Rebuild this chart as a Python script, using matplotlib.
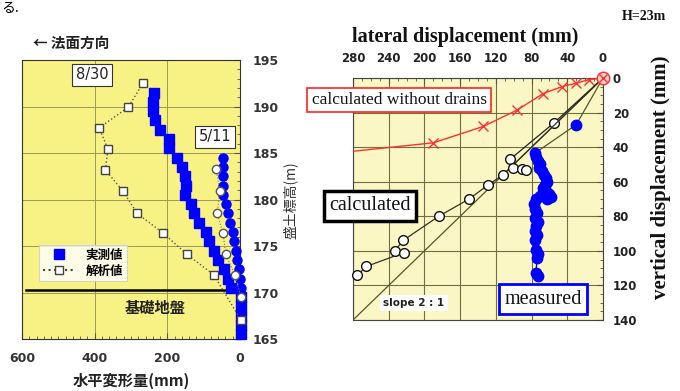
import matplotlib
matplotlib.use('Agg')
import matplotlib.pyplot as plt
from matplotlib.lines import Line2D
from matplotlib.ticker import MultipleLocator

JP = ['Noto Sans CJK JP', 'DejaVu Sans']
SERIF = 'Liberation Serif'

# ---- left: horizontal deformation vs. embankment elevation ----
elev_830 = [191.5, 190.5, 189.5, 188.5, 187.5, 186.5, 185.5, 184.5, 183.5, 182.5, 181.5,
            180.5, 179.5, 178.5, 177.5, 176.5, 175.5, 174.5, 173.5, 172.5, 171.5, 170.5,
            169.5, 168.5, 167.5, 166.5, 165.5]
meas_830 = [237, 239, 239, 234, 220, 195, 195, 173, 160, 151, 149,
            151, 135, 127, 113, 94, 85, 72, 61, 44, 33, 25,
            -3, -3, -4, -4, -4]
elev_511 = [184.5, 183.5, 182.5, 181.5, 180.5, 179.5, 178.5, 177.5, 176.5, 175.5,
            174.5, 173.5, 172.5, 171.5, 170.5]
meas_511 = [46, 46, 46, 46, 46, 39, 32, 28, 18, 16, 11, 7, 2, 0, -3]
calc_830_elev = [192.5, 189.9, 187.7, 185.4, 183.2, 180.9, 178.5, 176.4, 174.1, 171.9, 167.0]
calc_830 = [267, 308, 388, 363, 371, 322, 283, 212, 146, 72, -3]
calc_511_elev = [183.3, 180.9, 178.5, 176.4, 174.1, 171.9, 169.5]
calc_511 = [66, 55, 63, 47, 39, 14, -3]
foundation_elev = 170.3

# ---- right: lateral vs. vertical displacement ----
nodrain_lat = [0, 16, 30, 46, 67, 96, 134, 190, 282]
nodrain_vert = [0, 1, 3, 5, 9, 18.5, 28, 37.5, 42.5]
slope_lat = [0, 280]
slope_vert = [0, 140]
calc_a_lat = [0, 55, 104]
calc_a_vert = [0, 26, 47]
calc_b_lat = [0, 112, 129, 150, 184, 224, 233, 223, 265, 275]
calc_b_vert = [0, 56, 62, 70, 80, 94, 100, 101, 109, 114]
calc_c_lat = [101, 91, 86]
calc_c_vert = [52, 52.6, 53]
meas_lat = [0, 30, 76, 75, 73, 70.5, 71.7, 68.3, 66.1, 63.8, 62.7, 64.9, 67.2, 63.8, 60.5,
            58.2, 62.7, 70.5, 75, 77.3, 76.1, 73.9, 76.1, 72.8, 75, 76.1, 73.9, 76.1,
            75, 72.8, 73.9, 75, 72.8]
meas_vert = [0, 27, 43.4, 45.7, 48, 49.7, 52.1, 53.8, 56.1, 57.8, 60.1, 61.9, 63.6, 65.3,
             67.1, 68.8, 70, 68.2, 70, 72.9, 75.8, 78.1, 81, 83.3, 85.6, 88.5, 90.8, 93.7,
             99.5, 101.8, 104.1, 112.8, 114.5]

fig = plt.figure(figsize=(6.8, 3.91), dpi=100)


def fx(x):
    return x / 680


def fy(y):
    return 1 - y / 391


fig.text(fx(1), fy(1), 'る.', fontsize=10, family=JP, va='top', ha='left')

ax1 = fig.add_axes([fx(22), fy(339), 218 / 680, 279 / 391])
ax1.set_facecolor('#f8f284')
ax1.set_xlim(600, 0)
ax1.set_ylim(165, 195)
ax1.set_xticks([600, 400, 200, 0])
ax1.set_yticks([165, 170, 175, 180, 185, 190, 195])
ax1.xaxis.set_minor_locator(MultipleLocator(20))
ax1.yaxis.set_minor_locator(MultipleLocator(1))
ax1.yaxis.tick_right()
ax1.tick_params(which='both', direction='in', color='#555555', labelcolor='#333333')
ax1.tick_params(which='major', length=4)
ax1.tick_params(which='minor', length=2.5)
ax1.tick_params(axis='x', pad=9)
ax1.tick_params(axis='y', pad=9)
for lbl in ax1.get_xticklabels() + ax1.get_yticklabels():
    lbl.set_fontweight('bold')
    lbl.set_fontsize(9)
    lbl.set_family('DejaVu Sans')
ax1.grid(True, color='#9a9a58', lw=0.7)
for s in ax1.spines.values():
    s.set_color('#333333')
    s.set_linewidth(0.8)

ax1.axhline(foundation_elev, xmin=0.02, xmax=0.95, color='black', lw=1.8, zorder=3)
ax1.plot(meas_830, elev_830, ls='none', marker='s', color='#0000ff', ms=6.5, clip_on=False, zorder=4)
ax1.plot(meas_511, elev_511, ls='none', marker='o', color='#0000ff', ms=6.5, clip_on=False, zorder=4)
ax1.plot(calc_830, calc_830_elev, ls=':', color='#555555', lw=1, marker='s', mfc='white',
         mec='#444444', ms=6, clip_on=False, zorder=5)
ax1.plot(calc_511, calc_511_elev, ls=':', color='#777777', lw=0.8, marker='o', mfc='white',
         mec='#555555', ms=6, clip_on=False, zorder=5)

handles = [Line2D([], [], ls='none', marker='s', color='#0000ff', ms=6.5),
           Line2D([], [], ls=':', color='#444444', marker='s', mfc='white', mec='#444444', ms=6)]
leg = ax1.legend(handles, ['実測値', '解析値'], loc='upper left', bbox_to_anchor=(0.05, 0.36),
                 prop={'family': JP, 'weight': 'bold', 'size': 9}, frameon=True, fancybox=False,
                 edgecolor='#cccccc', handlelength=2.6, borderpad=0.3, labelspacing=0.25,
                 handletextpad=0.8)
leg.get_frame().set_linewidth(0.8)
leg.set_zorder(6)

ax1.text(234, 168.4, '基礎地盤', family=JP, fontsize=11, fontweight='bold', color='#222222',
         ha='center', va='center')
fig.text(fx(92), fy(75), '8/30', fontsize=10.5, family='DejaVu Sans', ha='center', va='center',
         color='#222222', bbox=dict(boxstyle='square,pad=0.25', fc='white', ec='#333333', lw=0.8))
fig.text(fx(215), fy(137), '5/11', fontsize=10.5, family='DejaVu Sans', ha='center', va='center',
         color='#222222', bbox=dict(boxstyle='square,pad=0.25', fc='white', ec='#333333', lw=0.8))
fig.text(fx(33), fy(43), '← 法面方向', family=JP, fontsize=10.5, fontweight='bold',
         color='#222222', ha='left', va='center')
fig.text(fx(290), fy(200), '盛土標高(m)', family=JP, fontsize=10, color='#333333',
         rotation=90, ha='center', va='center')
fig.text(fx(131), fy(381), '水平変形量(mm)', family=JP, fontsize=11, fontweight='bold',
         color='#222222', ha='center', va='center')

# right panel
ax2 = fig.add_axes([fx(353), fy(320), 250 / 680, 242 / 391])
ax2.set_facecolor('#fbf7c4')
ax2.set_xlim(280, 0)
ax2.set_ylim(140, 0)
ax2.set_xticks(range(0, 281, 40))
ax2.set_yticks(range(0, 141, 20))
ax2.xaxis.set_minor_locator(MultipleLocator(10))
ax2.yaxis.set_minor_locator(MultipleLocator(5))
ax2.xaxis.tick_top()
ax2.yaxis.tick_right()
ax2.tick_params(which='both', direction='in', color='#555555', labelcolor='#222222')
ax2.tick_params(which='major', length=4)
ax2.tick_params(which='minor', length=2.5)
ax2.tick_params(axis='x', pad=9)
ax2.tick_params(axis='y', pad=7)
for lbl in ax2.get_xticklabels() + ax2.get_yticklabels():
    lbl.set_fontweight('bold')
    lbl.set_fontsize(8.5)
    lbl.set_family('DejaVu Sans')
ax2.grid(True, color='#707040', lw=0.8)
for s in ax2.spines.values():
    s.set_color('#444444')
    s.set_linewidth(0.8)

ax2.plot(slope_lat, slope_vert, color='#55552a', lw=0.9, zorder=3)
ax2.plot(nodrain_lat, nodrain_vert, color='#ff3030', lw=1, marker='x', ms=7, mew=1,
         markevery=list(range(1, 8)), zorder=4)
ax2.plot(nodrain_lat[0], nodrain_vert[0], marker='o', mfc='#fbd0d0', mec='#ff3030', ms=9,
         clip_on=False, zorder=6)
ax2.plot(nodrain_lat[0], nodrain_vert[0], marker='x', color='#ff3030', ms=6, mew=1,
         clip_on=False, zorder=7)
# measured: olive path from the origin, blue dots for the readings
ax2.plot(meas_lat[:3], meas_vert[:3], color='#55552a', lw=0.9, zorder=3)
ax2.plot(meas_lat[2:], meas_vert[2:], ls='-', color='#0000ff', lw=1, zorder=4)
ax2.plot(meas_lat[1:], meas_vert[1:], ls='none', marker='o', ms=7.5, color='#0000ff',
         mec='#0000ff', zorder=4)
ax2.plot(calc_a_lat, calc_a_vert, color='#222222', lw=0.9, marker='o', mfc='white', mec='#111111',
         ms=7, markevery=[1, 2], zorder=5)
ax2.plot(calc_b_lat, calc_b_vert, color='#333322', lw=0.9, marker='o', mfc='white', mec='#111111',
         ms=7, markevery=list(range(1, len(calc_b_lat))), clip_on=False, zorder=5)
ax2.plot(calc_c_lat, calc_c_vert, ls='none', marker='o', mfc='white', mec='#111111', ms=7, zorder=5)

fig.text(fx(465), fy(37), 'lateral displacement (mm)', family=SERIF, fontweight='bold',
         fontsize=14.5, color='#111111', ha='center', va='center')
fig.text(fx(661), fy(177), 'vertical displacement (mm)', family=SERIF, fontweight='bold',
         fontsize=15, color='#111111', rotation=90, ha='center', va='center')
fig.text(fx(644), fy(17), 'H=23m', family=SERIF, fontweight='bold', fontsize=10,
         color='#111111', ha='center', va='center')
fig.text(fx(399), fy(100), 'calculated without drains', family=SERIF, fontsize=12.5,
         color='#111111', ha='center', va='center',
         bbox=dict(boxstyle='square,pad=0.25', fc='white', ec='#ff2020', lw=1.2))
fig.text(fx(370), fy(206), 'calculated', family=SERIF, fontsize=14.5, color='#111111',
         ha='center', va='center',
         bbox=dict(boxstyle='square,pad=0.25', fc='white', ec='black', lw=2.5))
fig.text(fx(543), fy(299), 'measured', family=SERIF, fontsize=14.5, color='#111111',
         ha='center', va='center',
         bbox=dict(boxstyle='square,pad=0.25', fc='white', ec='#0000ff', lw=2))
fig.text(fx(414), fy(303), 'slope 2 : 1', family='DejaVu Sans', fontweight='bold', fontsize=7.5,
         color='#222222', ha='center', va='center',
         bbox=dict(boxstyle='square,pad=0.3', fc='white', ec='none'))

fig.savefig('out.png', dpi=100)
